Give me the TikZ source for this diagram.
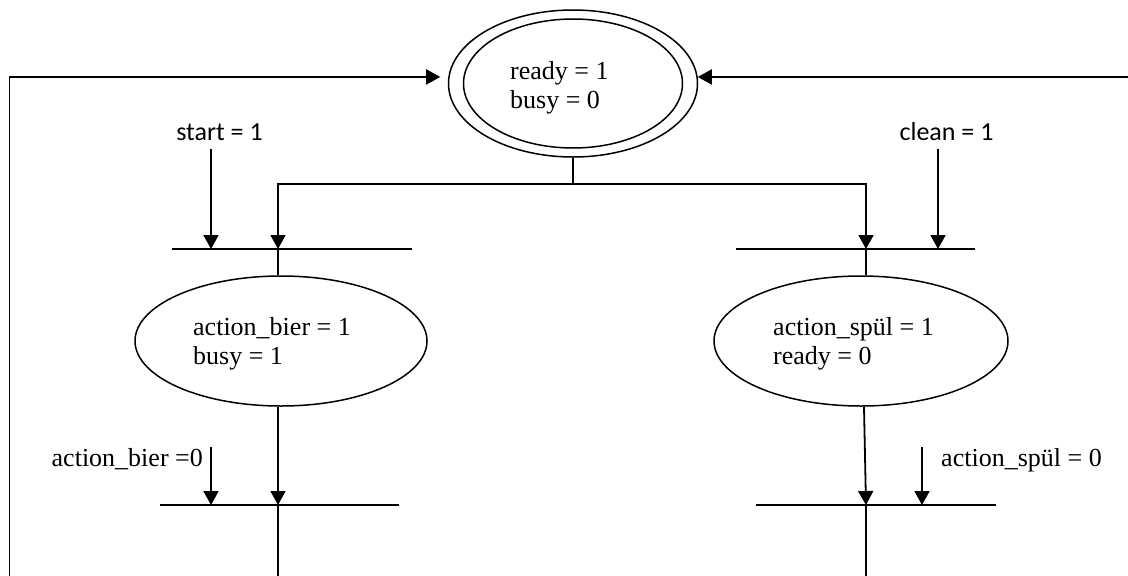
\documentclass[tikz,border=0pt]{standalone}
\usepackage{fontspec}
\setmainfont{Liberation Serif}
\newfontfamily\calfont{Carlito}
\usetikzlibrary{shapes.geometric,arrows.meta,calc}
\begin{document}
\begin{tikzpicture}[x=1pt,y=-1pt,
  ln/.style={line width=1.8pt},
  barline/.style={line width=1.5pt},
  arr/.style={line width=1.8pt,-{Triangle[width=15pt,length=14pt]}},
  st/.style={ellipse,draw,line width=1.5pt,inner sep=0pt},
  tx/.style={font=\fontsize{26}{29.5}\selectfont,align=left,anchor=base west,inner sep=0pt},
  lab/.style={font=\calfont\fontsize{26}{30}\selectfont,inner sep=0pt,anchor=base},
]
\useasboundingbox (0,0) rectangle (1128,576);
% states
\node[st,minimum width=249pt,minimum height=147pt] (outer) at (573,83.5) {};
\node[st,minimum width=219pt,minimum height=129pt] (inner) at (573,83.5) {};
\node[tx] (readyt) at (510,108.5) {ready = 1\\busy = 0};
\node[st,minimum width=292pt,minimum height=130pt] (bier) at (281,341) {};
\node[tx] (biert) at (193,364.5) {action\_bier = 1\\busy = 1};
\node[st,minimum width=294pt,minimum height=130pt] (spuel) at (861,341) {};
\node[tx] (spuelt) at (773,364.5) {action\_spül = 1\\ready = 0};
% labels
\node[lab] (start) at (219.5,140) {start = 1};
\node[lab] (clean) at (946.5,140) {clean = 1};
\node[tx,anchor=base east] (abier) at (203,466) {action\_bier =0};
\node[tx] (aspuel) at (941,466) {action\_spül = 0};
% coordinates
\coordinate (tL) at (278,249);
\coordinate (tR) at (866,249);
\coordinate (bL) at (278,505);
\coordinate (bR) at (866,505);
\coordinate (tL1) at (172,249); \coordinate (tL2) at (412,249);
\coordinate (tR1) at (736,249); \coordinate (tR2) at (975,249);
\coordinate (bL1) at (160,505); \coordinate (bL2) at (399,505);
\coordinate (bR1) at (756,505); \coordinate (bR2) at (996,505);
\coordinate (sS) at (211,149);
\coordinate (cS) at (938,149);
\coordinate (aS) at (211,447);
\coordinate (pS) at (922,447);
\coordinate (fork) at (573,184);
\coordinate (endL) at (278,576);
\coordinate (endR) at (866,576);
\coordinate (loopL) at (9.5,576);
\coordinate (loopR) at (1128,77);
% bars
\draw[barline] (tL1) -- (tL2);
\draw[barline] (tR1) -- (tR2);
\draw[barline] (bL1) -- (bL2);
\draw[barline] (bR1) -- (bR2);
% connectors
\draw[ln] (outer.south) -- (fork);
\draw[arr] (fork) -| (tL);
\draw[arr] (fork) -| (tR);
\draw[arr] (sS) -- (sS |- tL);
\draw[arr] (cS) -- (cS |- tR);
\draw[ln] (tL) -- (tL |- bier.north);
\draw[ln] (tR) -- (tR |- spuel.north);
\draw[arr] (bier.south -| bL) -- (bL);
\draw[arr] ([xshift=3pt]spuel.south) -- (bR);
\draw[arr] (aS) -- (aS |- bL);
\draw[arr] (pS) -- (pS |- bR);
\draw[ln] (bL) -- (endL);
\draw[ln] (bR) -- (endR);
\draw[arr,shorten >=8pt] (loopL) |- (outer.177);
\draw[arr] (loopR) -- (outer.3);
\end{tikzpicture}
\end{document}
